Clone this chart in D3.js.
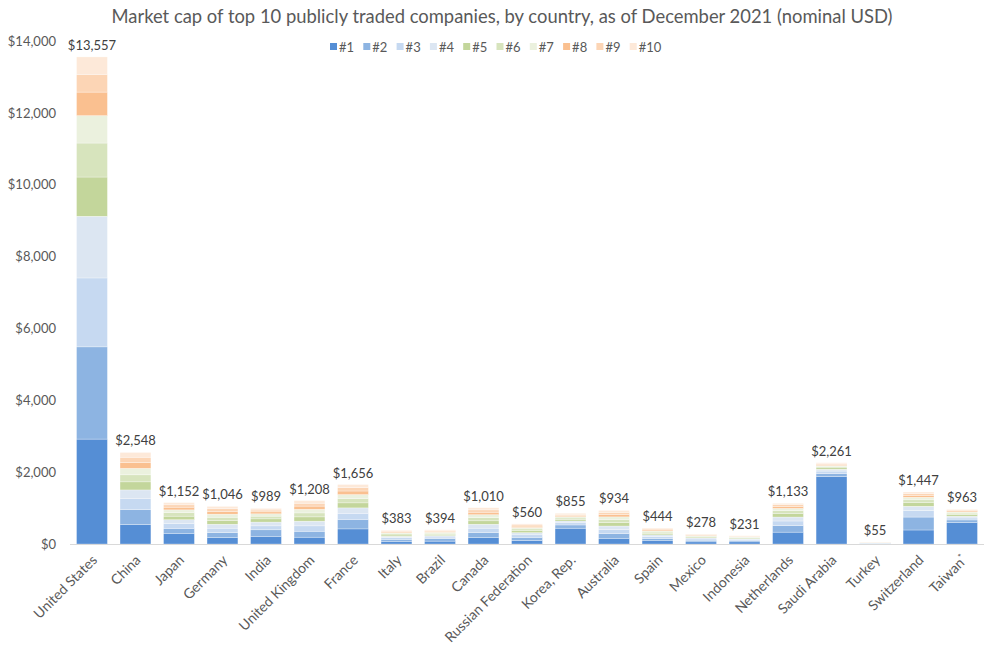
<!DOCTYPE html>
<html><head><meta charset="utf-8">
<script src="https://cdn.jsdelivr.net/npm/d3@7"></script>
<style>body{margin:0;background:#fff;} text{font-family:Lato,"Open Sans",sans-serif;}</style>
</head><body><svg id="c" width="1000" height="650"></svg>
<script>
const countries = ["United States","China","Japan","Germany","India","United Kingdom","France","Italy","Brazil","Canada","Russian Federation","Korea, Rep.","Australia","Spain","Mexico","Indonesia","Netherlands","Saudi Arabia","Turkey","Switzerland","Taiwan"];
const seriesNames = ["#1","#2","#3","#4","#5","#6","#7","#8","#9","#10"];
const totals = [13557,2548,1152,1046,989,1208,1656,383,394,1010,560,855,934,444,278,231,1133,2261,55,1447,963];
// rank values per country (#1..#10), in billions USD
const s1  = [2920,540,285,175,215,190,420,75,80,175,100,440,160,90,60,60,330,1880,10,390,600];
const s2  = [2567,420,150,140,180,165,265,55,70,145,85,90,130,65,45,35,180,80,8,360,70];
const s3  = [1918,300,130,125,110,150,170,45,45,120,70,60,110,55,35,30,130,70,7,180,55];
const s4  = [1716,245,110,110,105,130,150,40,40,110,60,50,100,45,30,25,110,50,6,120,50];
const s5  = [1093,225,100,100,90,120,140,35,35,95,55,45,95,40,25,20,95,40,5,100,45];
const s6  = [946,195,95,95,75,110,120,33,30,90,50,40,85,37,22,17,80,35,5,80,40];
const s7  = [762,180,80,85,65,100,110,30,28,80,40,37,75,32,20,14,65,30,4,70,30];
const s8  = [656,165,75,75,55,90,100,25,25,70,37,33,65,28,15,12,55,28,4,55,28];
const s9  = [492,145,65,75,50,80,95,23,22,65,33,30,60,27,14,10,48,25,3,50,25];
const s10 = [487,133,62,66,44,73,86,22,19,60,30,30,54,25,12,8,40,23,3,42,20];
const series = [s1,s2,s3,s4,s5,s6,s7,s8,s9,s10];
const colors = ["#558ED5","#8DB4E2","#C6D9F1","#DCE6F2","#C3D69B","#D7E4BD","#EBF1DE","#FAC090","#FCD5B5","#FDE9D9"];
const yTicks = [0,2000,4000,6000,8000,10000,12000,14000];

const svg = d3.select("#c");
const x = d3.scaleBand().domain(countries).range([70,984]).paddingInner(0.29).paddingOuter(0.15);
const y = d3.scaleLinear().domain([0,14000]).range([544,41]);

const rows = countries.map((c,i)=>{const r={country:c}; seriesNames.forEach((s,j)=>r[s]=series[j][i]); return r;});
const stacked = d3.stack().keys(seriesNames)(rows);
const color = d3.scaleOrdinal().domain(seriesNames).range(colors);

svg.append("text").attr("x",502).attr("y",23).attr("text-anchor","middle")
  .attr("font-size",18.4).attr("fill","#595959")
  .text("Market cap of top 10 publicly traded companies, by country, as of December 2021 (nominal USD)");

// y axis
const fmt = d3.format("$,");
const yAxis = d3.axisLeft(y).tickValues(yTicks).tickFormat(fmt).tickSize(0).tickPadding(0);
const yg = svg.append("g").attr("transform","translate(56,0)").call(yAxis);
yg.select(".domain").remove();
yg.selectAll("text").attr("font-size",13).attr("fill","#595959").attr("font-family","Lato");

// bars
svg.append("g").selectAll("g").data(stacked).join("g").attr("fill",d=>color(d.key))
  .selectAll("rect").data(d=>d).join("rect")
  .attr("x",d=>x(d.data.country)).attr("width",x.bandwidth())
  .attr("y",d=>y(d[1])).attr("height",d=>Math.max(0,y(d[0])-y(d[1])))
  .attr("stroke","#fff").attr("stroke-width",0.5).attr("stroke-opacity",0.6);

// x axis
const xAxis = d3.axisBottom(x).tickSize(0).tickPadding(0);
const xg = svg.append("g").attr("transform","translate(0,544)").call(xAxis);
xg.select(".domain").attr("stroke","#d9d9d9").attr("stroke-width",1.2).attr("d","M70,0.5H984");
xg.selectAll("text").attr("font-size",14).attr("fill","#595959").attr("font-family","Lato")
  .attr("text-anchor","end").attr("dy",null).attr("y",0)
  .attr("transform","translate(6,17) rotate(-45)");
xg.selectAll(".tick").filter(d=>d==="Taiwan").select("text")
  .text("Taiwan").append("tspan").attr("font-size",9).attr("dy",-5).text("*");

// totals
svg.append("g").selectAll("text").data(countries).join("text")
  .attr("x",d=>x(d)+x.bandwidth()/2).attr("y",(d,i)=>y(totals[i])-7)
  .attr("text-anchor","middle").attr("font-size",13).attr("fill","#404040")
  .text((d,i)=>fmt(totals[i]));

// legend
const lg = svg.append("g").selectAll("g").data(seriesNames).join("g")
  .attr("transform",(d,i)=>`translate(${330+i*33.3},47)`);
lg.append("rect").attr("x",0).attr("y",-4).attr("width",7).attr("height",7).attr("fill",d=>color(d));
lg.append("text").attr("x",9).attr("y",4.5).attr("font-size",13).attr("fill","#595959").text(d=>d);
</script></body></html>
